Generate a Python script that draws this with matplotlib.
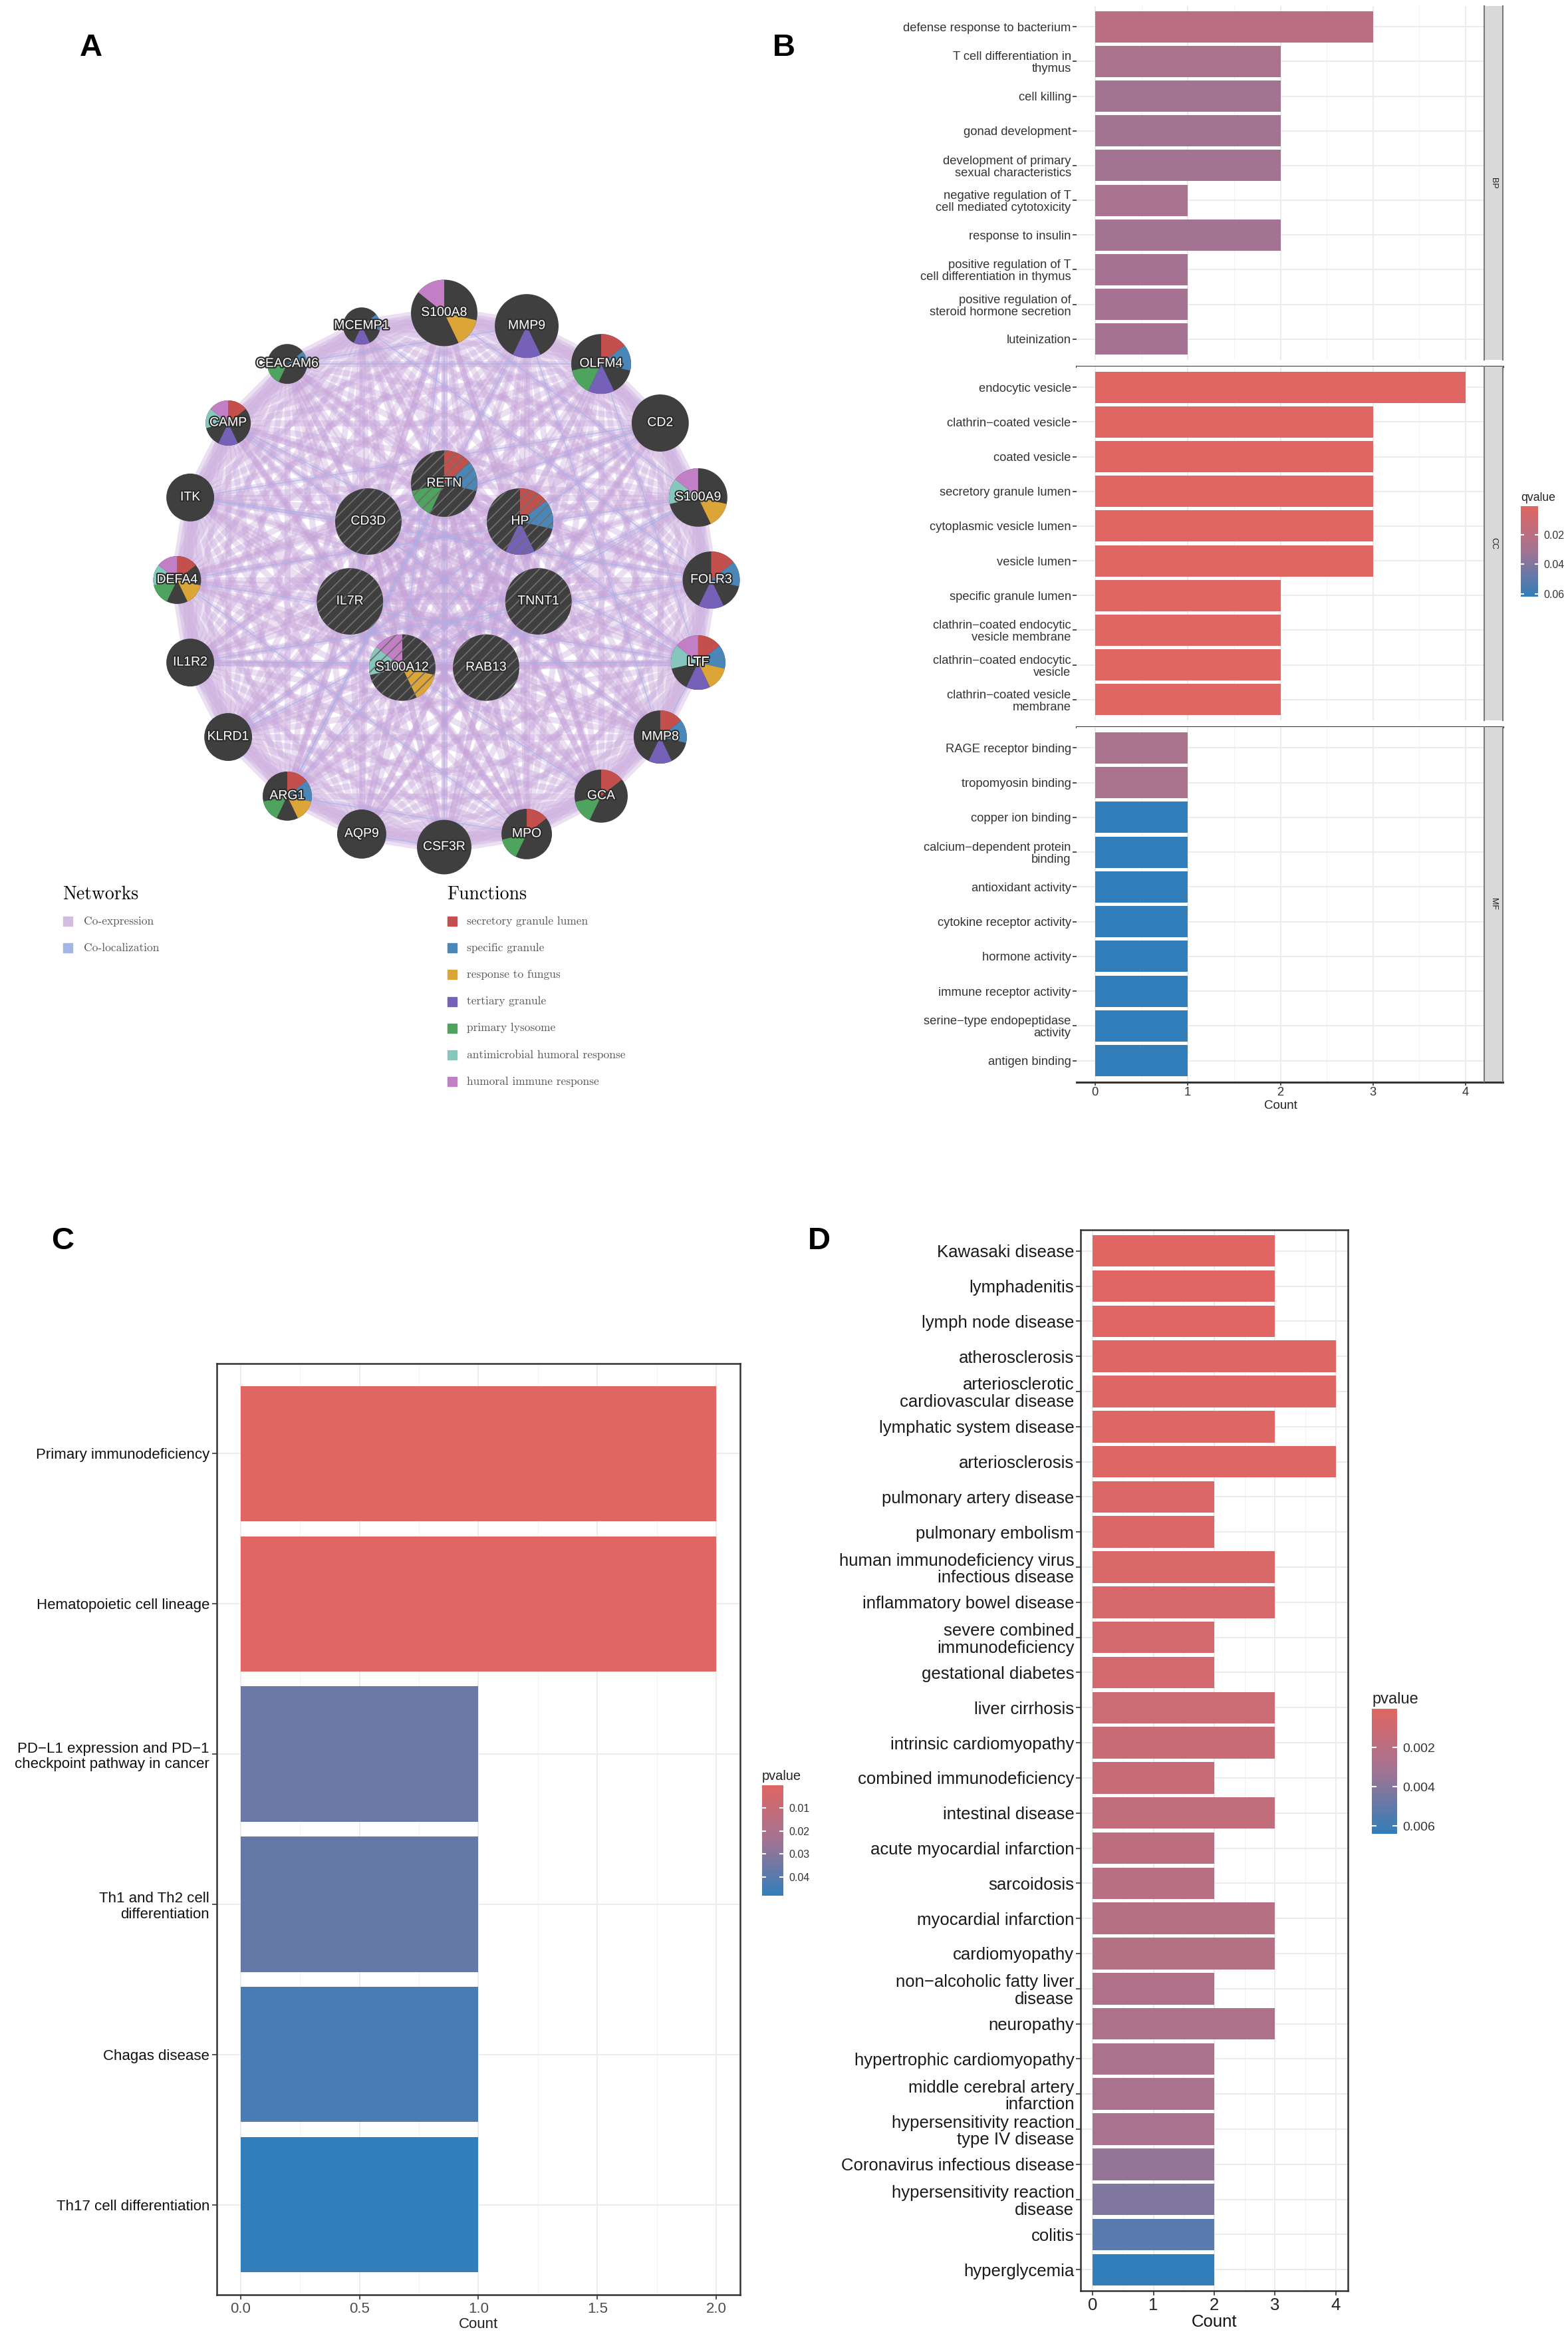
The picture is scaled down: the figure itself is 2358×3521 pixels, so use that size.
import itertools
import matplotlib
matplotlib.use("Agg")
import matplotlib.pyplot as plt
import matplotlib.patheffects as pe
import numpy as np
from matplotlib.colors import LinearSegmentedColormap, Normalize
from matplotlib.patches import Circle, Wedge, Rectangle
from matplotlib.lines import Line2D

plt.rcParams['font.family'] = ['Liberation Sans', 'DejaVu Sans']
plt.rcParams['hatch.linewidth'] = 1.3

W, H = 2358, 3521

# ---------------- panel A: gene network ----------------
ring_genes = ["S100A8", "MMP9", "OLFM4", "CD2", "S100A9", "FOLR3", "LTF", "MMP8", "GCA", "MPO",
              "CSF3R", "AQP9", "ARG1", "KLRD1", "IL1R2", "DEFA4", "ITK", "CAMP", "CEACAM6", "MCEMP1"]
ring_size = [50, 48, 45, 43, 44, 43, 41, 40, 40, 38, 41, 37, 37, 36, 36, 36, 36, 34, 30, 28]
inner_genes = ["RETN", "CD3D", "HP", "IL7R", "TNNT1", "S100A12", "RAB13"]
inner_x = [0.0, -0.284, 0.284, -0.353, 0.353, -0.157, 0.157]
inner_y = [0.361, 0.219, 0.219, -0.08, -0.08, -0.328, -0.328]
inner_size = [50, 50, 50, 50, 50, 50, 50]

functions = ["secretory granule lumen", "specific granule", "response to fungus", "tertiary granule",
             "primary lysosome", "antimicrobial humoral response", "humoral immune response"]
function_colors = ["#c4504e", "#4a87b8", "#dca538", "#7562b8", "#4ea45e", "#86c7bd", "#c27fc6"]
gene_functions = {
    "S100A8": [2, 6], "MMP9": [3], "OLFM4": [0, 1, 3, 4], "CD2": [], "S100A9": [2, 5, 6],
    "FOLR3": [0, 1, 3], "LTF": [0, 1, 2, 3, 5, 6], "MMP8": [0, 1, 3], "GCA": [0, 4], "MPO": [0, 4],
    "CSF3R": [], "AQP9": [], "ARG1": [0, 1, 2, 4], "KLRD1": [], "IL1R2": [], "DEFA4": [0, 2, 4, 5, 6],
    "ITK": [], "CAMP": [0, 3, 5, 6], "CEACAM6": [1, 4], "MCEMP1": [1, 3],
    "RETN": [0, 1, 4], "CD3D": [], "HP": [0, 1, 3], "IL7R": [], "TNNT1": [], "S100A12": [2, 5, 6], "RAB13": [],
}
coloc_edges = [("S100A8", "S100A9"), ("S100A8", "S100A12"), ("S100A9", "S100A12"), ("LTF", "OLFM4"),
               ("LTF", "MMP8"), ("MMP9", "MMP8"), ("CAMP", "LTF"), ("DEFA4", "MPO"), ("DEFA4", "LTF"),
               ("ARG1", "MMP9"), ("CD2", "CD3D"), ("CD2", "ITK"), ("ITK", "CD3D"), ("IL7R", "CD3D"),
               ("KLRD1", "CD2"), ("HP", "LTF"), ("RETN", "ARG1"), ("OLFM4", "CEACAM6"), ("MCEMP1", "FOLR3"),
               ("GCA", "S100A12"), ("AQP9", "CSF3R"), ("IL1R2", "FOLR3"), ("RAB13", "TNNT1"), ("DEFA4", "S100A9"),
               ("CAMP", "MMP8"), ("HP", "ARG1"), ("CSF3R", "S100A8"), ("MPO", "ARG1"), ("ITK", "FOLR3"),
               ("CEACAM6", "MMP9"), ("IL1R2", "LTF"), ("KLRD1", "S100A9")]
networks = ["Co-expression", "Co-localization"]
network_colors = ["#d2bde0", "#a4b6e6"]

# ---------------- panel B: GO enrichment ----------------
bp_terms = ["defense response to bacterium", "T cell differentiation in\nthymus", "cell killing",
            "gonad development", "development of primary\nsexual characteristics",
            "negative regulation of T\ncell mediated cytotoxicity", "response to insulin",
            "positive regulation of T\ncell differentiation in thymus",
            "positive regulation of\nsteroid hormone secretion", "luteinization"]
bp_count = [3, 2, 2, 2, 2, 1, 2, 1, 1, 1]
bp_qvalue = [0.020, 0.027, 0.031, 0.031, 0.031, 0.029, 0.031, 0.030, 0.030, 0.030]

cc_terms = ["endocytic vesicle", "clathrin\u2212coated vesicle", "coated vesicle", "secretory granule lumen",
            "cytoplasmic vesicle lumen", "vesicle lumen", "specific granule lumen",
            "clathrin\u2212coated endocytic\nvesicle membrane", "clathrin\u2212coated endocytic\nvesicle",
            "clathrin\u2212coated vesicle\nmembrane"]
cc_count = [4, 3, 3, 3, 3, 3, 2, 2, 2, 2]
cc_qvalue = [0.0006, 0.0008, 0.0008, 0.0008, 0.0008, 0.0008, 0.0010, 0.0010, 0.0010, 0.0010]

mf_terms = ["RAGE receptor binding", "tropomyosin binding", "copper ion binding",
            "calcium\u2212dependent protein\nbinding", "antioxidant activity", "cytokine receptor activity",
            "hormone activity", "immune receptor activity", "serine\u2212type endopeptidase\nactivity",
            "antigen binding"]
mf_count = [1, 1, 1, 1, 1, 1, 1, 1, 1, 1]
mf_qvalue = [0.028, 0.028, 0.062, 0.062, 0.062, 0.062, 0.062, 0.062, 0.062, 0.062]
go_facets = ["BP", "CC", "MF"]

# ---------------- panel C: KEGG ----------------
kegg_terms = ["Primary immunodeficiency", "Hematopoietic cell lineage",
              "PD\u2212L1 expression and PD\u22121\ncheckpoint pathway in cancer",
              "Th1 and Th2 cell\ndifferentiation", "Chagas disease", "Th17 cell differentiation"]
kegg_count = [2, 2, 1, 1, 1, 1]
kegg_pvalue = [0.0002, 0.0006, 0.036, 0.037, 0.043, 0.048]

# ---------------- panel D: disease ontology ----------------
do_terms = ["Kawasaki disease", "lymphadenitis", "lymph node disease", "atherosclerosis",
            "arteriosclerotic\ncardiovascular disease", "lymphatic system disease", "arteriosclerosis",
            "pulmonary artery disease", "pulmonary embolism", "human immunodeficiency virus\ninfectious disease",
            "inflammatory bowel disease", "severe combined\nimmunodeficiency", "gestational diabetes",
            "liver cirrhosis", "intrinsic cardiomyopathy", "combined immunodeficiency", "intestinal disease",
            "acute myocardial infarction", "sarcoidosis", "myocardial infarction", "cardiomyopathy",
            "non\u2212alcoholic fatty liver\ndisease", "neuropathy", "hypertrophic cardiomyopathy",
            "middle cerebral artery\ninfarction", "hypersensitivity reaction\ntype IV disease",
            "Coronavirus infectious disease", "hypersensitivity reaction\ndisease", "colitis", "hyperglycemia"]
do_count = [3, 3, 3, 4, 4, 3, 4, 2, 2, 3, 3, 2, 2, 3, 3, 2, 3, 2, 2, 3, 3, 2, 3, 2, 2, 2, 2, 2, 2, 2]
do_pvalue = [0.00003, 0.0001, 0.0001, 0.00015, 0.00015, 0.0002, 0.0002, 0.0003, 0.0003, 0.0004,
             0.0005, 0.0008, 0.0008, 0.0011, 0.0012, 0.0013, 0.0016, 0.0018, 0.0021, 0.0022,
             0.0023, 0.0025, 0.0026, 0.0027, 0.0028, 0.0029, 0.0036, 0.0042, 0.0053, 0.0064]

cmap = LinearSegmentedColormap.from_list("enrich", ["#e06663", "#a27493", "#327eba"])

fig = plt.figure(figsize=(W / 100, H / 100), dpi=100)


def px_axes(x0, y0, x1, y1):
    return fig.add_axes([x0 / W, 1 - y1 / H, (x1 - x0) / W, (y1 - y0) / H])


ov = fig.add_axes([0, 0, 1, 1])
ov.set_xlim(0, W)
ov.set_ylim(H, 0)
ov.axis("off")

for lab, x, y in [("A", 137, 72), ("B", 1179, 72), ("C", 94, 1866), ("D", 1232, 1866)]:
    ov.text(x, y, lab, fontsize=34, fontweight="bold", ha="center", va="center")

# ---- A ----
axA = px_axes(150, 350, 1190, 1390)
axA.set_xlim(-1.29, 1.30)
axA.set_ylim(-1.29, 1.30)
axA.set_aspect("equal")
axA.axis("off")
R = 402.0
pos = {}
for i, g in enumerate(ring_genes):
    ang = np.pi / 2 - 2 * np.pi * i / len(ring_genes)
    pos[g] = (np.cos(ang), np.sin(ang))
for g, x, y in zip(inner_genes, inner_x, inner_y):
    pos[g] = (x, y)
size = dict(zip(ring_genes, ring_size))
size.update(dict(zip(inner_genes, inner_size)))
all_genes = ring_genes + inner_genes

for a, b in itertools.combinations(all_genes, 2):
    axA.plot([pos[a][0], pos[b][0]], [pos[a][1], pos[b][1]], color="#c4a0d8", lw=6.5, alpha=0.33,
             solid_capstyle="round", zorder=1)
for i in range(len(ring_genes)):
    for step in (1, 2):
        a, b = ring_genes[i], ring_genes[(i + step) % len(ring_genes)]
        axA.plot([pos[a][0], pos[b][0]], [pos[a][1], pos[b][1]], color="#cdb0de", lw=14, alpha=0.4,
                 solid_capstyle="round", zorder=1)
for a, b in coloc_edges:
    axA.plot([pos[a][0], pos[b][0]], [pos[a][1], pos[b][1]], color="#a3b5ea", lw=1.3, alpha=0.65, zorder=2)

seg = 360.0 / len(functions)
for g in all_genes:
    x, y = pos[g]
    r = size[g] / R
    axA.add_patch(Circle((x, y), r, fc="#3f3f3f", ec="none", zorder=3))
    for k in gene_functions[g]:
        axA.add_patch(Wedge((x, y), r, 90 - (k + 1) * seg, 90 - k * seg, fc=function_colors[k],
                            ec="none", zorder=4))
    if g in inner_genes:
        axA.add_patch(Circle((x, y), r, fc="none", ec="#6e6e6e", lw=0, hatch="//", zorder=5))
    axA.text(x, y, g, color="white", fontsize=14, ha="center", va="center", zorder=6,
             path_effects=[pe.withStroke(linewidth=3, foreground="#2b2b2b")])

ov.text(94, 1345, "Networks", fontsize=20, family="cmr10", va="center", ha="left")
for i, (name, c) in enumerate(zip(networks, network_colors)):
    ov.add_patch(Rectangle((95, 1378 + 40 * i), 14, 14, color=c))
    ov.text(126, 1385 + 40 * i, name, fontsize=12.5, family="cmr10", color="#555555", va="center")
ov.text(672, 1345, "Functions", fontsize=20, family="cmr10", va="center", ha="left")
for i, (name, c) in enumerate(zip(functions, function_colors)):
    ov.add_patch(Rectangle((673, 1378 + 40.2 * i), 14, 14, color=c))
    ov.text(702, 1385 + 40.2 * i, name, fontsize=12.5, family="cmr10", color="#555555", va="center")


def bar_panel(ax, labels, counts, vals, norm, xmax, fs, lab_color, lsp, tick_len, pad):
    n = len(labels)
    y = np.arange(n)
    ax.barh(y, counts, height=0.9, color=cmap(norm(np.array(vals))), zorder=2)
    ax.set_ylim(n - 0.4, -0.6)
    ax.set_xlim(-0.05 * xmax, 1.05 * xmax)
    ax.set_yticks(y)
    ax.set_yticklabels(labels)
    for t in ax.get_yticklabels():
        t.set_linespacing(lsp)
        t.set_color(lab_color)
    ax.grid(which="major", color="#ebebeb", lw=1.3, zorder=0)
    ax.grid(which="minor", axis="x", color="#f3f3f3", lw=0.8, zorder=0)
    ax.set_axisbelow(True)
    ax.tick_params(axis="both", which="major", length=tick_len, width=1.2, color="#333333",
                   labelsize=fs, pad=pad)
    ax.tick_params(which="minor", length=0)


def colorbar(x0, y0, x1, y1, norm, ticks, labels, fs, title, title_fs):
    cax = px_axes(x0, y0, x1, y1)
    grad = np.linspace(norm.vmin, norm.vmax, 256)[:, None]
    cax.imshow(grad, extent=(0, 1, norm.vmax, norm.vmin), origin="upper", aspect="auto", cmap=cmap, norm=norm)
    cax.set_xlim(0, 1)
    cax.set_ylim(norm.vmax, norm.vmin)
    cax.set_xticks([])
    cax.yaxis.tick_right()
    cax.set_yticks(ticks)
    cax.set_yticklabels(labels, fontsize=fs, color="#333333")
    cax.tick_params(axis="y", direction="in", left=True, right=True, color="white", length=(x1 - x0) * 0.14,
                    width=1.5, pad=6)
    for s in cax.spines.values():
        s.set_visible(False)
    cax.set_title(title, loc="left", fontsize=title_fs, pad=6, color="#222222")


# ---- B ----
normB = Normalize(min(cc_qvalue), max(mf_qvalue))
b_rows = [(9, 541), (551, 1083), (1093, 1626)]
for fi, (terms, cnt, qv) in enumerate([(bp_terms, bp_count, bp_qvalue), (cc_terms, cc_count, cc_qvalue),
                                       (mf_terms, mf_count, mf_qvalue)]):
    y0, y1 = b_rows[fi]
    ax = px_axes(1619, y0, 2232, y1)
    bar_panel(ax, terms, cnt, qv, normB, 4, 13.2, "#333333", 1.08, 4, 2)
    ax.set_xticks([0, 1, 2, 3, 4])
    ax.set_xticks([0.5, 1.5, 2.5, 3.5], minor=True)
    for s in ax.spines.values():
        s.set_visible(False)
    if fi < 2:
        ax.tick_params(axis="x", labelbottom=False, bottom=False)
    else:
        ax.set_xlabel("Count", fontsize=13.5, labelpad=2, color="#222222")
        ax.tick_params(axis="x", labelcolor="#333333")
    sax = px_axes(2232, y0, 2260, y1)
    sax.set_facecolor("#d9d9d9")
    sax.set_xticks([])
    sax.set_yticks([])
    for side, s in sax.spines.items():
        s.set_color("#7a7a7a")
        s.set_linewidth(1.5)
        s.set_visible(side in ("left", "right"))
    sax.text(0.5, 0.5, go_facets[fi], rotation=270, fontsize=9, ha="center", va="center",
             transform=sax.transAxes, color="#1a1a1a")
for yl in (551, 1093, 1627):
    ov.add_line(Line2D([1619, 2260], [yl, yl], color="#333333", lw=2.2))
colorbar(2287, 761, 2313, 897, normB, [0.02, 0.04, 0.06], ["0.02", "0.04", "0.06"], 11.5, "qvalue", 12.7)

# ---- C ----
normC = Normalize(min(kegg_pvalue), max(kegg_pvalue))
axC = px_axes(326, 2050, 1113, 3450)
bar_panel(axC, kegg_terms, kegg_count, kegg_pvalue, normC, 2, 16, "#111111", 1.15, 5, 3)
axC.set_xticks([0, 0.5, 1.0, 1.5, 2.0])
axC.set_xticklabels(["0.0", "0.5", "1.0", "1.5", "2.0"])
axC.set_xticks([0.25, 0.75, 1.25, 1.75], minor=True)
axC.tick_params(axis="x", labelcolor="#4d4d4d")
for s in axC.spines.values():
    s.set_color("#333333")
    s.set_linewidth(1.8)
axC.set_xlabel("Count", fontsize=16, labelpad=1, color="#222222")
colorbar(1146, 2684, 1178, 2850, normC, [0.01, 0.02, 0.03, 0.04], ["0.01", "0.02", "0.03", "0.04"],
         11.5, "pvalue", 14.4)

# ---- D ----
normD = Normalize(min(do_pvalue), max(do_pvalue))
axD = px_axes(1625, 1849, 2027, 3444)
bar_panel(axD, do_terms, do_count, do_pvalue, normD, 4, 18.5, "#1a1a1a", 1.08, 5, 2)
axD.set_xticks([0, 1, 2, 3, 4])
axD.set_xticks([0.5, 1.5, 2.5, 3.5], minor=True)
axD.tick_params(axis="x", labelcolor="#222222")
for s in axD.spines.values():
    s.set_color("#333333")
    s.set_linewidth(1.8)
axD.set_xlabel("Count", fontsize=18.5, labelpad=1, color="#111111")
colorbar(2063, 2569, 2101, 2757, normD, [0.002, 0.004, 0.006], ["0.002", "0.004", "0.006"],
         14, "pvalue", 17)

fig.savefig("out.png", dpi=100)
